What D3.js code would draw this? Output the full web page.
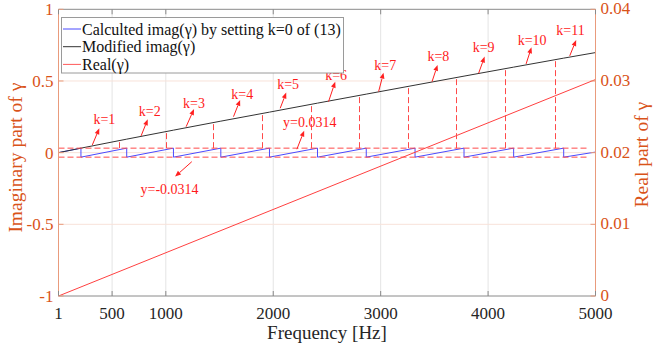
<!DOCTYPE html>
<html>
<head>
<meta charset="utf-8">
<script src="https://cdn.jsdelivr.net/npm/d3@7"></script>
<style>
  html, body { margin: 0; padding: 0; background: #fff; }
  svg { display: block; font-family: "Liberation Serif", "Times New Roman", serif; }
</style>
</head>
<body>
<svg id="chart" width="654" height="349"></svg>
<script>
// ---- data ----
const xTicks = [1, 500, 1000, 2000, 3000, 4000, 5000];
const yLeftTicks = [-1, -0.5, 0, 0.5, 1];
const yRightTicks = [0, 0.01, 0.02, 0.03, 0.04];

// modified imaginary part (unwrapped)
const modFreq = [1, 210, 636, 1071, 1512, 1965, 2412, 2866, 3320, 3776, 4238, 4704, 5000];
const modImag = [0, 0.0314, 0.0942, 0.1570, 0.2198, 0.2826, 0.3454, 0.4082, 0.4710, 0.5338, 0.5966, 0.6594, 0.6980];

// wrapped imaginary part with k=0: jumps between the two bounds
const bound = 0.0314;
const jumpFreq = [210, 636, 1071, 1512, 1965, 2412, 2866, 3320, 3776, 4238, 4704];
const wrapStart = [1, 0];
const wrapEnd = [5000, 0.004];

// real part (right axis)
const realFreq = [1, 5000];
const realVal = [0, 0.0302];

// dashed markers from the upper bound to the modified curve
const markFreq = [568, 1003, 1443, 1894, 2351, 2801, 3255, 3705, 4161, 4627];
const boundEnd = 4940;

// annotation labels: text point, arrow tail, arrow tip (freq, imag)
const notes = [
  { t: "k=1",  tx: 428,  ty: 0.237, ax: 316,  ay: 0.054, hx: 381,  hy: 0.170 },
  { t: "k=2",  tx: 851,  ty: 0.289, ax: 770,  ay: 0.117, hx: 832,  hy: 0.233 },
  { t: "k=3",  tx: 1263, ty: 0.347, ax: 1189, ay: 0.181, hx: 1263, hy: 0.305 },
  { t: "k=4",  tx: 1711, ty: 0.407, ax: 1630, ay: 0.251, hx: 1692, hy: 0.368 },
  { t: "k=5",  tx: 2139, ty: 0.476, ax: 2065, ay: 0.310, hx: 2121, hy: 0.419 },
  { t: "k=6",  tx: 2586, ty: 0.542, ax: 2515, ay: 0.356, hx: 2577, hy: 0.495 },
  { t: "k=7",  tx: 3043, ty: 0.608, ax: 2981, ay: 0.426, hx: 3027, hy: 0.558 },
  { t: "k=8",  tx: 3537, ty: 0.673, ax: 3478, ay: 0.495, hx: 3530, hy: 0.612 },
  { t: "k=9",  tx: 3959, ty: 0.737, ax: 3912, ay: 0.554, hx: 3968, hy: 0.670 },
  { t: "k=10", tx: 4410, ty: 0.783, ax: 4354, ay: 0.619, hx: 4404, hy: 0.735 },
  { t: "k=11", tx: 4767, ty: 0.856, ax: 4760, ay: 0.675, hx: 4820, hy: 0.786 },
  { t: "y=0.0314",  tx: 2340, ty: 0.211,  ax: 2220, ay: 0.024,  hx: 2288, hy: 0.1535 },
  { t: "y=-0.0314", tx: 1035, ty: -0.253, ax: 1242, ay: -0.063, hx: 1086, hy: -0.167 }
];

const legendItems = [
  { label: "Calculted imag(\u03B3) by setting k=0 of (13)", color: "#4a4aff" },
  { label: "Modified imag(\u03B3)", color: "#333333" },
  { label: "Real(\u03B3)", color: "#ff5a5a" }
];

// ---- layout ----
const orange = "#D95319";
const L = 58.5, R = 595.5, T = 9.3, B = 296;
const svg = d3.select("#chart");

const x = d3.scaleLinear().domain([1, 5000]).range([L, R]);
const yL = d3.scaleLinear().domain([-1, 1]).range([B, T]);
const yR = d3.scaleLinear().domain([0, 0.04]).range([B, T]);
const modCurve = d3.scaleLinear().domain(modFreq).range(modImag);

// grid
const grid = svg.append("g");
grid.selectAll("line.gx").data(xTicks.slice(1, -1)).join("line")
  .attr("x1", d => x(d)).attr("x2", d => x(d)).attr("y1", T).attr("y2", B)
  .attr("stroke", "#e4e4e4").attr("stroke-width", 1);
grid.selectAll("line.gy").data(yLeftTicks.slice(1, -1)).join("line")
  .attr("x1", L).attr("x2", R).attr("y1", d => yL(d)).attr("y2", d => yL(d))
  .attr("stroke", "#f8e2d9").attr("stroke-width", 1);

// wrapped series
const wrapPts = [wrapStart];
jumpFreq.forEach(f => { wrapPts.push([f, bound]); wrapPts.push([f, -bound]); });
wrapPts.push(wrapEnd);
const lineL = d3.line().x(d => x(d[0])).y(d => yL(d[1]));
svg.append("path").datum(wrapPts).attr("d", lineL)
  .attr("fill", "none").attr("stroke", "#4a4aff").attr("stroke-width", 1);

// modified series
svg.append("path").datum(modFreq.map((f, i) => [f, modImag[i]])).attr("d", lineL)
  .attr("fill", "none").attr("stroke", "#333333").attr("stroke-width", 1);

// real part
svg.append("path").datum(realFreq.map((f, i) => [f, realVal[i]]))
  .attr("d", d3.line().x(d => x(d[0])).y(d => yR(d[1])))
  .attr("fill", "none").attr("stroke", "#ff4040").attr("stroke-width", 1);

// dashed guides
const dash = svg.append("g").attr("stroke", "#ff4a4a").attr("stroke-width", 1)
  .attr("stroke-dasharray", "6,3").attr("fill", "none");
[bound, -bound].forEach(v => {
  dash.append("line").attr("x1", x(1)).attr("x2", x(boundEnd))
    .attr("y1", yL(v)).attr("y2", yL(v));
});
dash.selectAll("line.mk").data(markFreq).join("line")
  .attr("x1", d => Math.round(x(d)) + 0.5).attr("x2", d => Math.round(x(d)) + 0.5)
  .attr("y1", yL(bound)).attr("y2", d => yL(modCurve(d)));

// axes box
const ax = svg.append("g");
ax.append("line").attr("x1", L).attr("x2", R).attr("y1", B).attr("y2", B).attr("stroke", "#8a8a8a");
ax.append("line").attr("x1", L).attr("x2", R).attr("y1", T).attr("y2", T).attr("stroke", "#8a8a8a");
ax.append("line").attr("x1", L).attr("x2", L).attr("y1", T).attr("y2", B).attr("stroke", "#e99b7c");
ax.append("line").attr("x1", R).attr("x2", R).attr("y1", T).attr("y2", B).attr("stroke", "#e99b7c");

// ticks (inward)
const tk = 5;
xTicks.forEach(t => {
  ax.append("line").attr("x1", x(t)).attr("x2", x(t)).attr("y1", B).attr("y2", B - tk).attr("stroke", "#8a8a8a");
  ax.append("line").attr("x1", x(t)).attr("x2", x(t)).attr("y1", T).attr("y2", T + tk).attr("stroke", "#8a8a8a");
});
yLeftTicks.forEach(t => {
  ax.append("line").attr("x1", L).attr("x2", L + tk).attr("y1", yL(t)).attr("y2", yL(t)).attr("stroke", "#e99b7c");
});
yRightTicks.forEach(t => {
  ax.append("line").attr("x1", R).attr("x2", R - tk).attr("y1", yR(t)).attr("y2", yR(t)).attr("stroke", "#e99b7c");
});

// tick labels (plain hyphen for negatives)
const fmt = d => String(d);
svg.append("g").selectAll("text").data(xTicks).join("text")
  .attr("x", d => x(d)).attr("y", B + 23).attr("text-anchor", "middle")
  .attr("font-size", 17).attr("fill", "#262626").text(d => d);
svg.append("g").selectAll("text").data(yLeftTicks).join("text")
  .attr("x", L - 5).attr("y", d => yL(d)).attr("dy", "0.35em").attr("text-anchor", "end")
  .attr("font-size", 17).attr("fill", orange).text(fmt);
svg.append("g").selectAll("text").data(yRightTicks).join("text")
  .attr("x", R + 5).attr("y", d => yR(d)).attr("dy", "0.3em").attr("text-anchor", "start")
  .attr("font-size", 17).attr("fill", orange).text(fmt);

// axis titles
svg.append("text").attr("x", (L + R) / 2).attr("y", 339).attr("text-anchor", "middle")
  .attr("font-size", 19).attr("fill", "#262626").text("Frequency [Hz]");
svg.append("text").attr("transform", `translate(21.5,${(T + B) / 2 + 5}) rotate(-90)`)
  .attr("text-anchor", "middle").attr("font-size", 19.5).attr("fill", orange)
  .text("Imaginary part of \u03B3");
svg.append("text").attr("transform", `translate(648,${(T + B) / 2 + 2}) rotate(-90)`)
  .attr("text-anchor", "middle").attr("font-size", 19.5).attr("fill", orange)
  .text("Real part of \u03B3");

// annotations
const an = svg.append("g");
notes.forEach(n => {
  const x0 = x(n.ax), y0 = yL(n.ay), x1 = x(n.hx), y1 = yL(n.hy);
  const ang = Math.atan2(y1 - y0, x1 - x0);
  const hl = 6, hw = 2.4;
  const bx = x1 - hl * Math.cos(ang), by = y1 - hl * Math.sin(ang);
  an.append("line").attr("x1", x0).attr("y1", y0).attr("x2", bx).attr("y2", by)
    .attr("stroke", "#ff2020").attr("stroke-width", 1);
  const px = -Math.sin(ang) * hw, py = Math.cos(ang) * hw;
  an.append("path")
    .attr("d", `M${x1},${y1}L${bx + px},${by + py}L${bx - px},${by - py}Z`)
    .attr("fill", "#ff2020");
  an.append("text").attr("x", x(n.tx)).attr("y", yL(n.ty)).attr("dy", "0.35em")
    .attr("text-anchor", "middle").attr("font-size", 14).attr("fill", "#ff1a1a").text(n.t);
});

// legend
const lg = svg.append("g");
lg.append("rect").attr("x", 61.5).attr("y", 17.5).attr("width", 282).attr("height", 55.5)
  .attr("fill", "#fff").attr("stroke", "#9a9a9a").attr("stroke-width", 1);
legendItems.forEach((it, i) => {
  const yy = 29 + i * 17.7;
  lg.append("line").attr("x1", 63).attr("x2", 81).attr("y1", yy).attr("y2", yy)
    .attr("stroke", it.color).attr("stroke-width", 1);
  lg.append("text").attr("x", 82).attr("y", yy).attr("dy", "0.35em")
    .attr("font-size", 16).attr("fill", "#111").text(it.label);
});
</script>
</body>
</html>
